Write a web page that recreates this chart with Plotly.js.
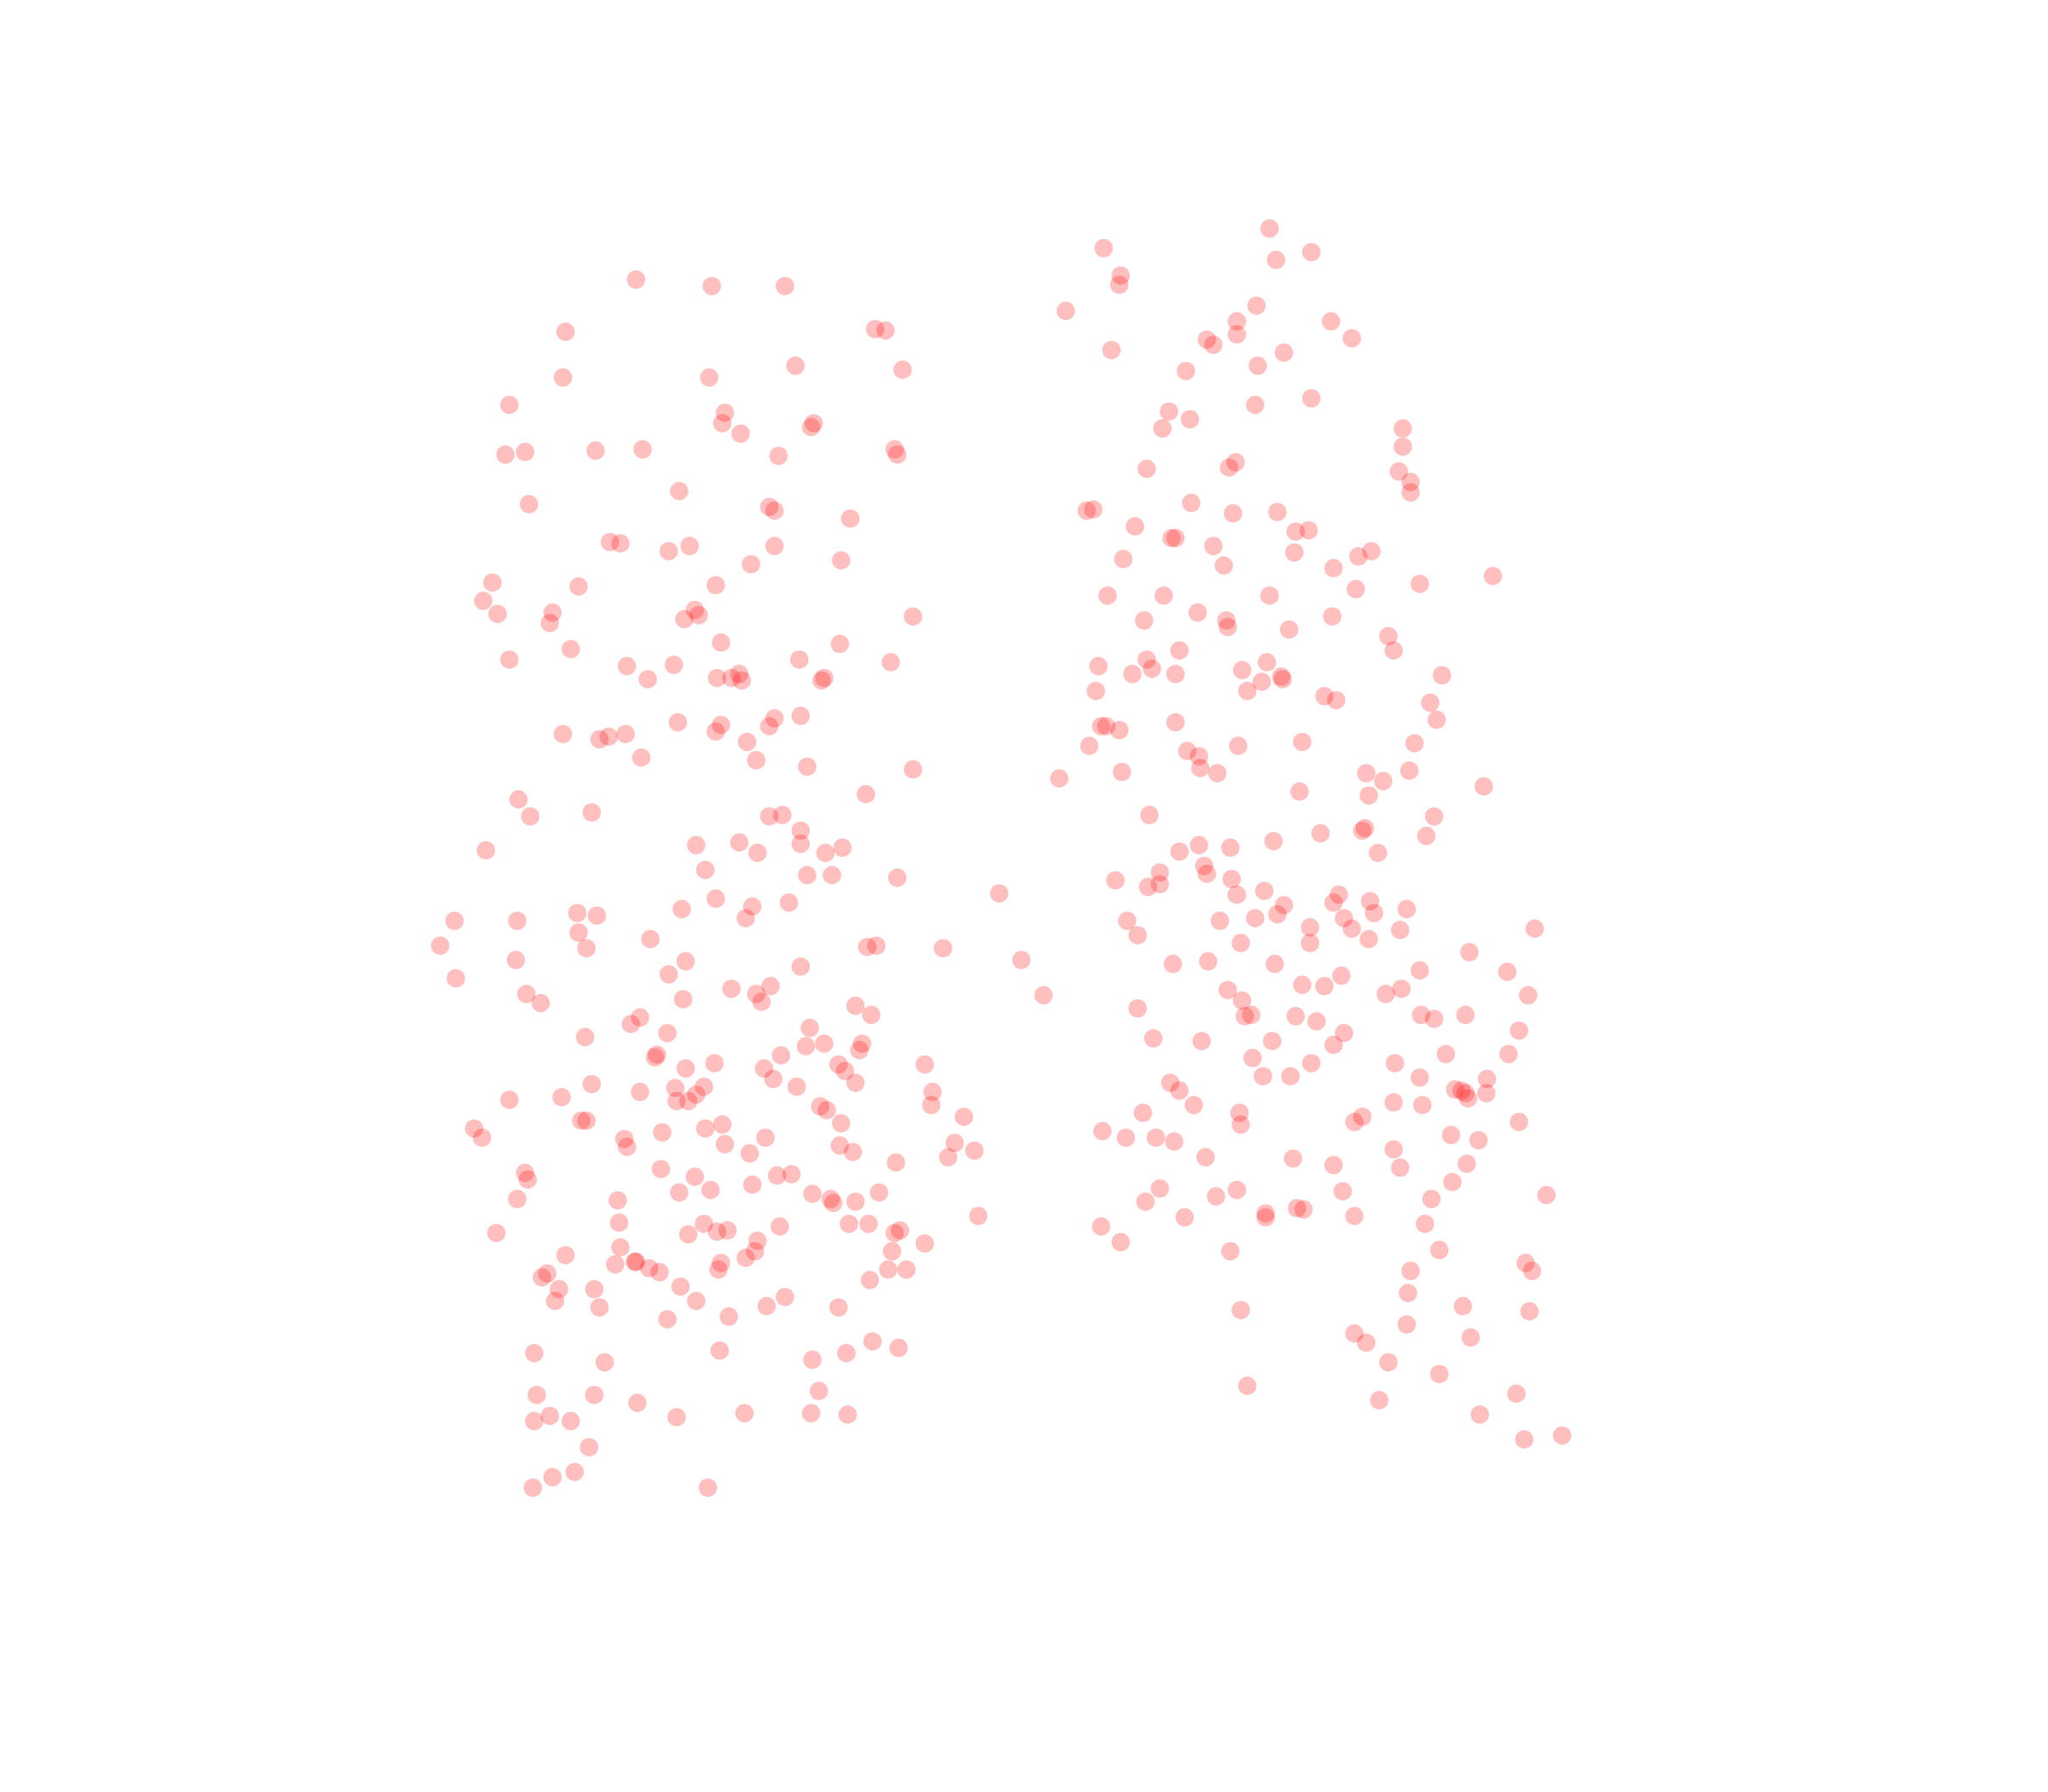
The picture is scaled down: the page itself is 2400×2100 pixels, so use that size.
<!DOCTYPE html>
<html><head><meta charset="utf-8">
<script src="https://cdn.plot.ly/plotly-3.0.1.min.js"></script>
<style>html,body{margin:0;padding:0;background:#fff}</style></head>
<body><div id="chart" style="width:2400px;height:2100px"></div>
<script>
const leftX=[487,545,601,433,670,678,431,543,609,691,390,555,553,623,621,567,387,402,456,492,596,685,687,520,405,589,593,651,467,475,512,528,593,575,644,377,443,548,370,381,423,421,532,535,524,699,437,552,643,390,480,516,612,682,496,549,560,566,568,631,629,593,613,552,548,589,519,431,459,466,479,572,491,579,618,699,397,406,453,663,589,599,613,613,533,566,580,632,645,372,540,618,637,687,765,548,576,604,522,571,442,457,348,396,443,449,498,337,664,671,722,395,525,613,782,349,512,560,590,403,414,523,579,583,799,655,667,490,483,620,448,511,617,631,660,658,503,501.5,598,547,525,585,642,647,708,592,655,453,517,539,533,490,610,714,390,430,518,527,628,633,713,445,449,553,540,644,738,363,369,507,478,480,586,555,643,653,731,746,574,726,686,402,404,506,532,595,606,576,520,544,396,473,622,636,638,655,673,749,474,539,650,665,597,527,549,557,685,689,380,580,708,475,433,578,571,683,471,487,486,497,505,552,550,680,694,415,419,666,428,455,521,425,533,601,459,587,642,558,511,409,551,668,648,688,463,622,411,455,627,488,421,409,437,518,570,621,649,451,423,440,408,542];
const leftY=[214,219,219,254,252,253,289,289,280,283,310,316,324,324,327,332,348,346,345,344,349,344,348,376,386,388,391,397,415,416,422,418,418,432,429,446,449,448,460,470,469,477,467,471,474,472,497,492,493,505,510,509,505,507,520,519,519,516,521,519,521,550,548,555,560,556,553,562,566,564,562,568,580,582,587,589,612,625,622,608,625,624,636,646,647,645,653,653,649,651,666,670,670,672,684,688,694,691,696,703,699,701,705,705,714,726,719,724,725,724,726,735,736,740,735,749,746,757,755,761,768,765,761,767,762,770,777,779,784,787,794,791,801,799,799,804,807.5,809.5,808,814,818,818,815,820,815,826,829,830,833,832,838,836,832,836,842,840,843,843,847,850,846,858,858,861,864,860,855,864,871,867,872,878,871,876,877,882,875,881,883,886,890,898,903,895,901,900,899,907,913,911,918,919,914,918,921,920,913,931,936,937,937,937,939,945,943,942,944,942,944,950,952,955,961,958,963,958,968,966,966,971,974,967,972,972,972,978,975,980,987,987,985,996,996,993,1001,1000,1001,1008,1010,1036,1034,1027,1036,1032,1043,1041,1068,1068,1065,1074,1084,1088,1088,1085,1082,1082,1083,1108,1131,1127,1139,1139];
const rightX=[972,845,1004,977,858,857,816,962,947,1019,947,1035,924,929,851,983,963,908,961,1004,895,911,890,1074,1074,878,941,946,1071,1080,1080,912,832,837,944,978,869,992,1002,897,900,929,991,860,937,1040,1050,1021,1087,1143,848,891,972,1038,917,876,939,940,1020,987,1063,1067,903,878,882,841,867,900,951,970,981,982,966,955,1104,839,1014,1023,1095,1100,843,847,857,900,834,948,997,1083,909,918,919,932,859,811,1079,1046,1059,1136,995,1048,880,1098,975,1011,1043,1045,1092,918,903,942,1055,922,924,888,854,879,888,943,968,947,1025,1021,1049,983,1077,1052,978,1029,934,961,863,1003,1035,1072,1175,871,1048,950,1003,1125,898,925,976,1087,1154,1027,997,1014,940,1073,1061,1170,951,871,953,958,992,1008,1088,1098,1122,1029,1163,883,920,974,1021,1107,1155,959,1004,1068,967,988,1087,1138.5,896,903,1114,1119,1122,1124,1138,1067,1089,875,914,949,950,1043,1037,1163,844,862,885,899,1111,1132,1067,923,990,1021,1072,1123,1112,888,877,931,947,1028,1096,1184,843,907,969,969,993,998,1037,1091,858,942,1102,1168,1173,1080,1078,950,1120,1171,1077,1037,1046,1126,1063,1102,955,1161,1056,1133,1167,1196];
const rightY=[175,190,193,199,211,218,238,234,246,246,256,259,260,264,268,270,280,284,310,305,315,321,328,328,342,359,358,354,361,369,377,385,391,390,393,392,403,407,406,412,412,418,423,428,433,426,422,435,447,441,456,456,456,451,469,475,475,480,472,482,487,498,498,505,512,510,516,516,513,507,518,520,522,529,517,529,533,536,538,551,556,556,559,553,571,571,568,569,575,579,588,592,591,596,590,592,598,602,606,609,624,625,644,638,636,634,640,647,652,649,653,663,669,668,674,679,677,673,682,685,685,691,690,693,696,699,700,703,705,703,705,710,711,712,711,716,719,722,722,729,738,736,738,743,744,747,754,755,758,757,761,762,766,772,778,777,778,782,777,780,777,791,789,795,797,797,800,807,807,810,814,814,824,824,825,826,829,835,834,835,837,841,837,844,846,852,846,852,861,855,859,859,866,871,871,874,869,873,880,886,887,892,894,891,905,910,920,916,911,912,918,915,939,932,929,932,925,926,931,937,951,958,957,967,973,973,990,1003,1000,1004,1014,1021,1028,1024,1043,1052,1061,1067,1072,1083,1102,1099];

const markerStyle={color:'rgb(255,0,0)',size:21.5,opacity:0.25,line:{width:0}};
const traces=[[leftX,leftY],[rightX,rightY]].map(([x,y])=>({type:'scatter',mode:'markers',x,y,marker:markerStyle,hoverinfo:'skip'}));
Plotly.newPlot('chart',traces,{
  width:2400,height:2100,showlegend:false,
  margin:{l:0,r:0,t:0,b:0,pad:0},
  paper_bgcolor:'#fff',plot_bgcolor:'#fff',
  xaxis:{visible:false,range:[0,1568],fixedrange:true},
  yaxis:{visible:false,range:[1372,0],fixedrange:true}
},{displayModeBar:false,staticPlot:true});
</script></body></html>
